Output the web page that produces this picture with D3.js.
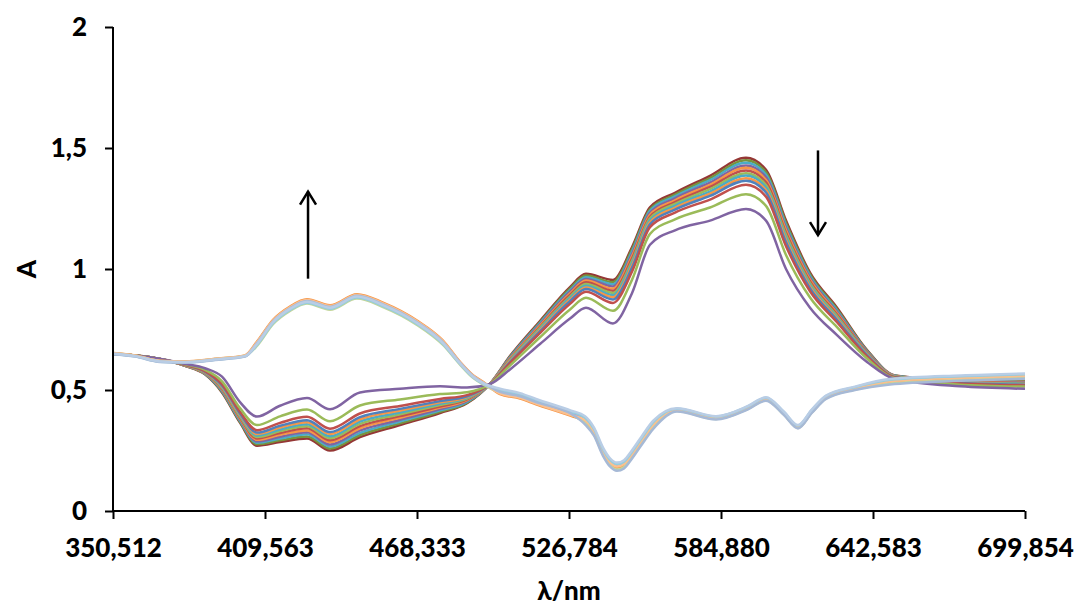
<!DOCTYPE html>
<html>
<head>
<meta charset="utf-8">
<style>
  body { margin: 0; background: #fff; }
  svg { display: block; font-family: Lato, "Open Sans", sans-serif; font-weight: 900; }
</style>
<script src="https://d3js.org/d3.v7.min.js"></script>
</head>
<body>
<svg id="chart" width="1076" height="608"></svg>

<script id="data">
// category axis labels (nm) and A axis ticks
var xTickLabels = [350.512, 409.563, 468.333, 526.784, 584.880, 642.583, 699.854];
var yTicks = [0, 0.5, 1, 1.5, 2];

// first set of spectra: band at ~600 nm decreasing
var wlA = [350.51, 364.89, 378.48, 386.25, 392.86, 399.85, 406.45, 415.36, 425.80, 434.70, 446.29,
           461.76, 477.18, 487.56, 496.40, 504.09, 515.63, 527.17, 533.28, 543.60, 550.86, 557.74,
           567.30, 580.67, 594.37, 601.96, 609.56, 618.67, 628.92, 640.31, 650.87, 675.36, 699.85];

var specA1 = [.650,.635,.608,.590,.555,.450,.390,.435,.467,.420,.490,.505,.515,.510,.525,.585,.690,.795,.840,.775,.900,1.100,1.160,1.200,1.248,1.200,1.000,.840,.727,.616,.545,.515,.505];
var specA2 = [.650,.635,.606,.583,.536,.425,.355,.391,.419,.371,.436,.461,.483,.491,.525,.601,.718,.833,.881,.827,.955,1.145,1.205,1.254,1.309,1.261,1.058,.882,.760,.630,.549,.522,.514];
var specA3 = [.650,.635,.604,.578,.524,.410,.334,.364,.389,.340,.403,.434,.463,.479,.525,.611,.735,.856,.906,.860,.989,1.173,1.233,1.287,1.348,1.299,1.094,.908,.780,.639,.552,.527,.519];
var specA4 = [.650,.635,.604,.576,.519,.403,.324,.352,.375,.326,.388,.422,.454,.474,.525,.615,.742,.867,.917,.874,1.005,1.185,1.245,1.302,1.365,1.316,1.110,.920,.789,.643,.553,.529,.522];
var specA5 = [.650,.635,.603,.575,.516,.399,.318,.345,.367,.318,.379,.415,.449,.471,.525,.618,.747,.873,.924,.883,1.014,1.193,1.253,1.311,1.375,1.326,1.120,.927,.795,.645,.554,.530,.523];
var specA6 = [.650,.635,.603,.574,.513,.395,.312,.337,.358,.309,.370,.407,.443,.468,.525,.621,.752,.880,.931,.892,1.024,1.201,1.261,1.320,1.386,1.337,1.130,.934,.800,.648,.555,.531,.525];
var specA7 = [.650,.635,.602,.572,.509,.390,.306,.330,.350,.301,.360,.400,.438,.464,.525,.624,.757,.886,.938,.901,1.033,1.209,1.269,1.330,1.396,1.347,1.140,.942,.806,.650,.556,.533,.526];
var specA8 = [.650,.635,.602,.571,.506,.386,.300,.322,.342,.292,.351,.392,.432,.461,.525,.626,.761,.893,.945,.910,1.043,1.216,1.276,1.339,1.407,1.358,1.150,.949,.812,.653,.556,.534,.528];
var specA9 = [.650,.635,.602,.570,.503,.382,.294,.315,.333,.284,.342,.385,.427,.458,.525,.629,.766,.899,.952,.919,1.052,1.224,1.284,1.348,1.418,1.368,1.160,.956,.817,.655,.557,.535,.529];
var specA10 = [.650,.635,.601,.569,.500,.378,.288,.307,.325,.275,.333,.377,.421,.455,.525,.632,.771,.906,.959,.928,1.062,1.232,1.292,1.357,1.428,1.379,1.170,.963,.823,.658,.558,.536,.531];
var specA11 = [.650,.635,.601,.567,.496,.373,.282,.300,.317,.267,.323,.370,.416,.451,.525,.635,.776,.912,.966,.937,1.071,1.240,1.300,1.367,1.439,1.389,1.180,.971,.829,.660,.559,.538,.532];
var specA12 = [.650,.635,.600,.566,.493,.369,.276,.292,.308,.258,.314,.362,.410,.448,.525,.637,.780,.919,.973,.946,1.081,1.247,1.307,1.376,1.449,1.400,1.190,.978,.834,.663,.559,.539,.534];
var specA13 = [.650,.635,.600,.565,.490,.365,.270,.285,.300,.250,.305,.355,.405,.445,.525,.640,.785,.925,.980,.955,1.090,1.255,1.315,1.385,1.460,1.410,1.200,.985,.840,.665,.560,.540,.535];

var coloursA = ["#8064A2","#9BBB59","#C0504D","#4F81BD","#F79646","#4BACC6","#9BBB59",
                "#C0504D","#F79646","#8064A2","#4BACC6","#77933C","#953735"];

// second set of spectra: band at ~440 nm
var wlB = [350.51, 359.06, 368.77, 378.48, 390.14, 401.79, 406.45, 412.66, 419.23, 425.80, 434.70,
           445.13, 455.19, 468.33, 478.33, 484.87, 489.87, 493.71, 500.25, 507.94, 514.09, 527.55,
           532.90, 536.34, 539.78, 542.45, 545.13, 547.81, 550.48, 554.69, 558.89, 568.06, 582.97,
           595.13, 601.96, 608.80, 614.11, 619.43, 624.74, 635.75, 648.99, 675.74, 699.85];

var specB1 = [.653,.643,.621,.618,.629,.643,.700,.790,.845,.875,.850,.896,.861,.787,.704,.616,.561,.534,.483,.465,.441,.393,.370,.323,.240,.196,.178,.188,.223,.288,.350,.415,.382,.424,.460,.400,.345,.410,.467,.504,.533,.548,.556];
var specB2 = [.652,.642,.620,.617,.628,.642,.682,.772,.827,.857,.832,.878,.843,.769,.686,.605,.550,.523,.489,.471,.447,.399,.364,.317,.234,.190,.172,.182,.217,.282,.344,.413,.380,.422,.458,.398,.343,.408,.465,.502,.527,.542,.550];
var specB3 = [.651,.641,.619,.616,.627,.641,.695,.785,.840,.870,.845,.891,.856,.782,.699,.613,.558,.531,.495,.477,.453,.405,.380,.333,.250,.206,.188,.198,.233,.298,.360,.421,.388,.430,.466,.406,.351,.416,.473,.510,.539,.554,.562];
var specB4 = [.652,.642,.620,.617,.628,.642,.697,.787,.842,.872,.847,.893,.858,.784,.701,.614,.559,.532,.486,.468,.444,.396,.376,.329,.246,.202,.184,.194,.229,.294,.356,.418,.385,.427,.463,.403,.348,.413,.470,.507,.536,.551,.559];
var specB5 = [.649,.639,.617,.614,.625,.639,.686,.776,.831,.861,.836,.882,.847,.773,.690,.608,.553,.526,.500,.482,.458,.410,.386,.339,.256,.212,.194,.204,.239,.304,.366,.423,.390,.432,.468,.408,.353,.418,.475,.512,.542,.557,.565];
var specB6 = [.648,.638,.616,.613,.624,.638,.693,.783,.838,.868,.843,.889,.854,.780,.697,.612,.557,.530,.492,.474,.450,.402,.358,.311,.228,.184,.166,.176,.211,.276,.338,.411,.378,.420,.456,.396,.341,.406,.463,.500,.523,.538,.546];
var specB7 = [.650,.640,.618,.615,.626,.640,.690,.780,.835,.865,.840,.886,.851,.777,.694,.610,.555,.528,.505,.487,.463,.415,.392,.345,.262,.218,.200,.210,.245,.310,.372,.425,.392,.434,.470,.410,.355,.420,.477,.514,.545,.560,.568];

var coloursB = ["#F79646","#C3D69B","#B3A2C7","#FAC090","#93CDDD","#A6B9D6","#B9CDE5"];

// arrows: [wavelength, A from, A to]
var arrowUp = [426.2, 0.96, 1.32];
var arrowDown = [621.7, 1.49, 1.14];
</script>

<script id="chart-building">
var svg = d3.select("#chart");
var plotLeft = 113, plotRight = 1025, plotTop = 27, plotBottom = 511;

var locale = d3.formatLocale({decimal: ",", thousands: ".", grouping: [3], currency: ["", ""]});

// category axis: labels equally spaced, wavelengths mapped piecewise
var x = d3.scaleLinear()
  .domain(xTickLabels)
  .range(xTickLabels.map(function (d, i) { return plotLeft + i * (plotRight - plotLeft) / (xTickLabels.length - 1); }));
var y = d3.scaleLinear().domain([0, 2]).range([plotBottom, plotTop]);

var line = d3.line()
  .x(function (d) { return x(d[0]); })
  .y(function (d) { return y(d[1]); })
  .curve(d3.curveMonotoneX);

var seriesA = [specA1, specA2, specA3, specA4, specA5, specA6, specA7, specA8, specA9, specA10, specA11, specA12, specA13];
var seriesB = [specB1, specB2, specB3, specB4, specB5, specB6, specB7];

var plot = svg.append("g");
seriesA.slice().reverse().forEach(function (s, k) {
  var i = seriesA.length - 1 - k;
  plot.append("path")
    .datum(s.map(function (v, j) { return [wlA[j], v]; }))
    .attr("d", line)
    .attr("fill", "none")
    .attr("stroke", coloursA[i])
    .attr("stroke-width", 2.5);
});
seriesB.forEach(function (s, i) {
  plot.append("path")
    .datum(s.map(function (v, j) { return [wlB[j], v]; }))
    .attr("d", line)
    .attr("fill", "none")
    .attr("stroke", coloursB[i])
    .attr("stroke-width", 2.5);
});

// axes
var yAxis = svg.append("g")
  .attr("transform", "translate(" + plotLeft + ",0)")
  .call(d3.axisLeft(y).tickValues(yTicks).tickFormat(locale.format("~g")).tickSize(8).tickPadding(18));
var xAxis = svg.append("g")
  .attr("transform", "translate(0," + plotBottom + ")")
  .call(d3.axisBottom(x).tickValues(xTickLabels).tickFormat(locale.format(".3f")).tickSize(8).tickPadding(20));

svg.selectAll(".domain").attr("stroke", "#000").attr("stroke-width", 2);
svg.selectAll(".tick line").attr("stroke", "#000").attr("stroke-width", 2);
svg.selectAll(".tick text").attr("fill", "#000").style("font-size", "26px").style("font-weight", "900")
  .style("font-family", "Lato, 'Open Sans', sans-serif");
yAxis.select(".domain").attr("d", "M0," + plotTop + "V" + plotBottom);
xAxis.select(".domain").attr("d", "M" + plotLeft + ",0H" + plotRight);

// axis titles
svg.append("text")
  .attr("x", (plotLeft + plotRight) / 2)
  .attr("y", 600)
  .attr("text-anchor", "middle")
  .style("font-size", "26px")
  .text("λ/nm");
svg.append("text")
  .attr("transform", "translate(36,269) rotate(-90)")
  .attr("text-anchor", "middle")
  .style("font-size", "26px")
  .text("A");

// arrows
function arrow(a) {
  var ax = x(a[0]), y0 = y(a[1]), y1 = y(a[2]);
  var dir = y1 < y0 ? 1 : -1;
  var g = svg.append("g").attr("stroke", "#000").attr("stroke-width", 2.5).attr("fill", "none");
  g.append("line").attr("x1", ax).attr("x2", ax).attr("y1", y0).attr("y2", y1);
  g.append("path").attr("d", "M" + (ax - 8) + "," + (y1 + dir * 13) + "L" + ax + "," + y1 + "L" + (ax + 8) + "," + (y1 + dir * 13));
}
arrow(arrowUp);
arrow(arrowDown);
</script>
</body>
</html>
